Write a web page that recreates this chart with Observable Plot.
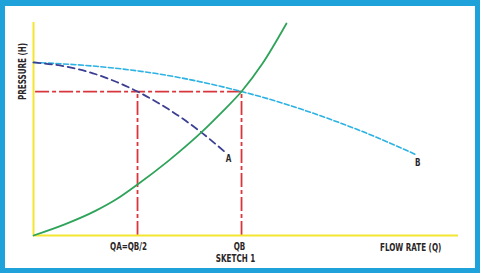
<!DOCTYPE html>
<html>
<head>
<meta charset="utf-8">
<script src="https://cdn.jsdelivr.net/npm/d3@7"></script>
<script src="https://cdn.jsdelivr.net/npm/@observablehq/plot@0.6"></script>
<style>
  html, body { margin: 0; padding: 0; background: #fff; }
  #wrap { position: relative; width: 480px; height: 273px; overflow: hidden; }
  #frame { position: absolute; left: 0; top: 0; width: 480px; height: 273px; box-sizing: border-box;
           border: 5px solid #1ea2d9; border-top-width: 6px; pointer-events: none; }
  svg { display: block; }
</style>
</head>
<body>
<div id="wrap"><div id="frame"></div></div>
<script>
// ---- data (flow rate Q, pressure H; QB = 10, shut-off head = 100) ----
const systemQ = [0, 1.5, 3, 4, 5, 6.5, 8.13, 9, 10, 11, 12.16];
const systemH = [0, 6.45, 14.4, 21.1, 29.5, 43.3, 60.3, 70.6, 83.2, 99.2, 122.5];

const pumpAQ = [0, 1.5, 3, 4, 5, 6.5, 8.13, 9.23];
const pumpAH = [100, 97.8, 93.2, 88.7, 83.2, 72.9, 59, 48];

const pumpBQ = [0, 3, 6, 8, 10, 12, 14, 16, 18.37];
const pumpBH = [100, 97.8, 93.4, 88.9, 83.2, 76.4, 68.3, 59.2, 46.8];

const QA = 5, QB = 10, HB = 83.2;
const tickValues = [QA, QB];
const tickLabels = ["QA=QB/2", "QB"];
const xTitle = "FLOW RATE (Q)";
const yTitle = "PRESSURE (H)";
const caption = "SKETCH 1";
const curveLabels = ["A", "B"];

const zip = (qs, hs) => qs.map((q, i) => ({q, h: hs[i]}));
const system = zip(systemQ, systemH);
const pumpA = zip(pumpAQ, pumpAH);
const pumpB = zip(pumpBQ, pumpBH);

const font = "'DejaVu Sans Condensed', 'Liberation Sans Narrow', sans-serif";
const ink = "#2a2627";
const red = "#d8363c";
const dashDot = "14,3,4,3";

const chart = Plot.plot({
  width: 480,
  height: 273,
  marginLeft: 33,
  marginRight: 22,
  marginTop: 22,
  marginBottom: 38,
  style: {fontFamily: font, fontSize: "10px", color: ink, background: "transparent"},
  x: {domain: [0, 20.43], axis: null},
  y: {domain: [0, 123.1], axis: null},
  marks: [
    Plot.ruleY([HB], {x1: 0.1, x2: QB, stroke: red, strokeWidth: 1.8, strokeDasharray: dashDot}),
    Plot.ruleX(tickValues, {y1: 0, y2: HB, stroke: red, strokeWidth: 1.8, strokeDasharray: dashDot}),
    Plot.ruleX([0], {stroke: "#f4e531", strokeWidth: 2}),
    Plot.ruleY([0], {stroke: "#f4e531", strokeWidth: 2}),
    Plot.line(pumpB, {x: "q", y: "h", curve: "monotone-x", stroke: "#2cb2e3", strokeWidth: 1.6, strokeDasharray: "5,2.5"}),
    Plot.line(pumpA, {x: "q", y: "h", curve: "monotone-x", stroke: "#3c3f91", strokeWidth: 1.8, strokeDasharray: "7,4.5"}),
    Plot.line(system, {x: "q", y: "h", curve: "monotone-x", stroke: "#2ea35a", strokeWidth: 1.8}),
    Plot.text([pumpA[pumpA.length - 1]], {x: "q", y: "h", text: () => curveLabels[0], dx: 3, dy: 6, fill: ink, fontWeight: "bold"}),
    Plot.text([pumpB[pumpB.length - 1]], {x: "q", y: "h", text: () => curveLabels[1], dx: 2, dy: 8, fill: ink, fontWeight: "bold"}),
    Plot.text([QA], {x: d => d, y: 0, text: () => tickLabels[0], dx: -9, dy: 11, fill: ink, fontWeight: 600}),
    Plot.text([QB], {x: d => d, y: 0, text: () => tickLabels[1], dx: -2, dy: 11, fill: ink, fontWeight: 600}),
    Plot.text([QB], {x: d => d, y: 0, text: () => caption, dx: -6, dy: 23, fill: ink, fontWeight: 600}),
    Plot.text([18.13], {x: d => d, y: 0, text: () => xTitle, dy: 12, fill: ink, fontWeight: 600}),
    Plot.text([94.8], {x: 0, y: d => d, text: () => yTitle, rotate: -90, dx: -11, fill: ink, fontWeight: "bold"})
  ]
});
document.getElementById("wrap").prepend(chart);

// condensed lettering, as in the sketch
d3.select(chart).selectAll("text").each(function() {
  const w = this.getComputedTextLength();
  if (w > 0) {
    this.setAttribute("textLength", (w * 0.8).toFixed(1));
    this.setAttribute("lengthAdjust", "spacingAndGlyphs");
  }
});
</script>
</body>
</html>
